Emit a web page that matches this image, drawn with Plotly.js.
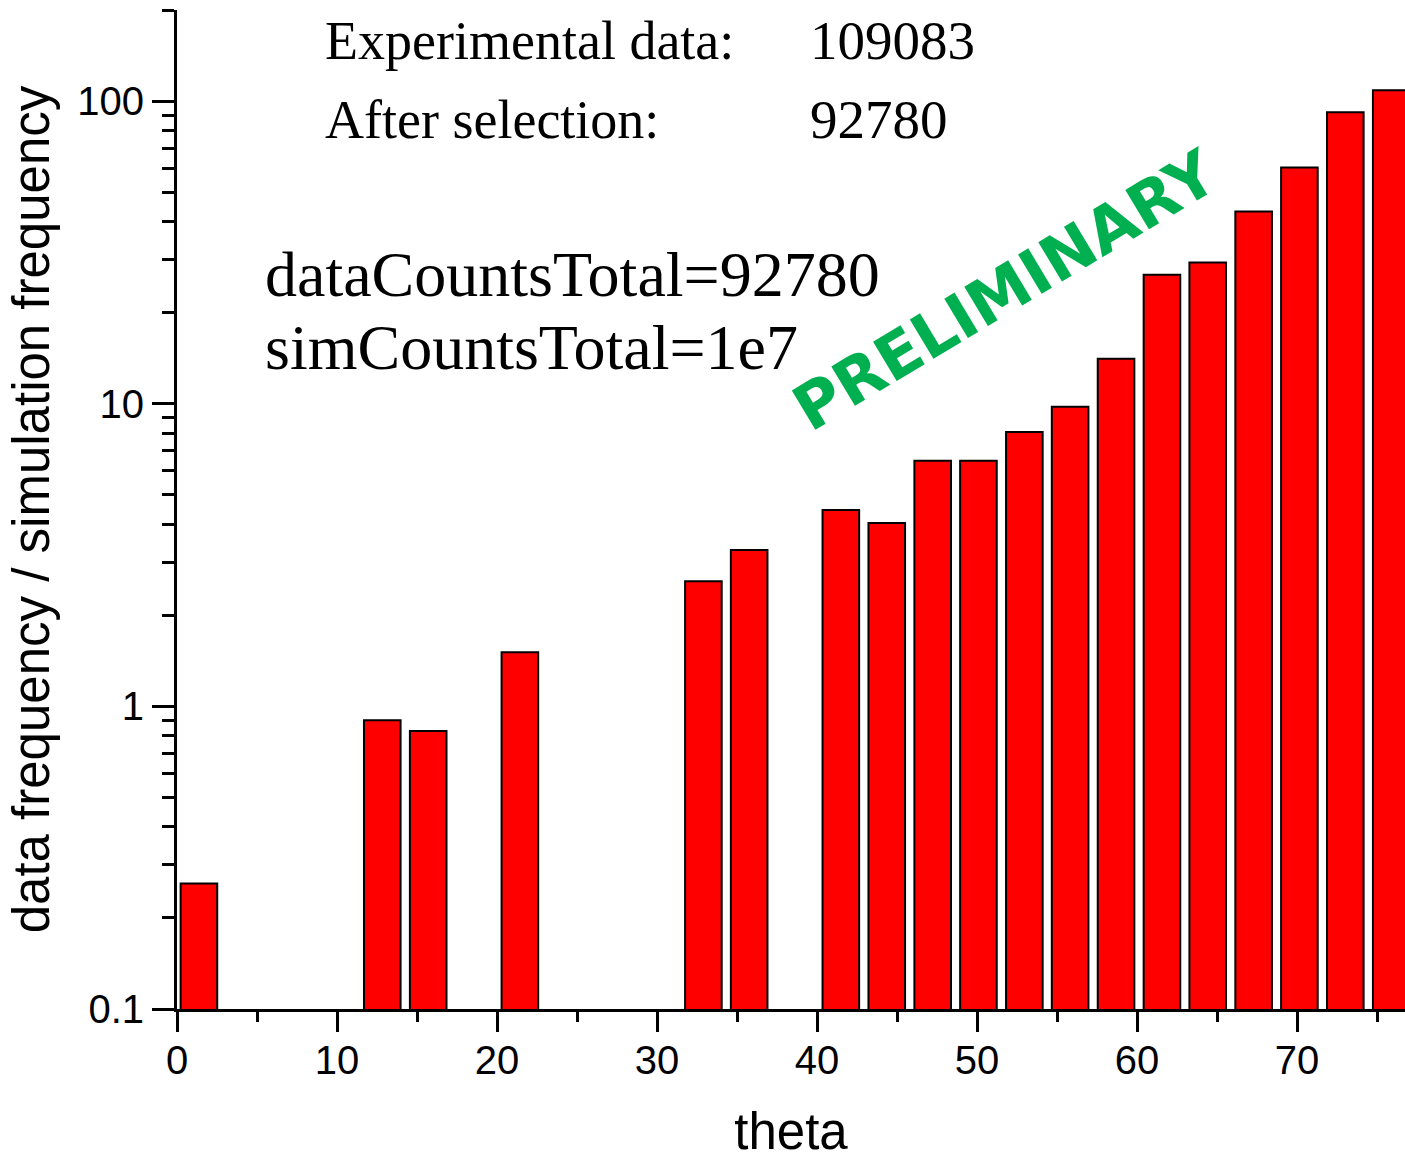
<!DOCTYPE html>
<html>
<head>
<meta charset="utf-8">
<script src="https://cdn.plot.ly/plotly-3.0.1.min.js"></script>
<style>html,body{margin:0;padding:0;background:#fff;}#chart{width:1405px;height:1160px;}</style>
</head>
<body>
<div id="chart"></div>
<script>
// bin centres (theta) and data/simulation frequency ratio; null = empty bin
const theta = [1.37, 4.24, 7.10, 9.97, 12.83, 15.70, 18.57, 21.43, 24.30, 27.16,
               30.03, 32.90, 35.76, 38.63, 41.49, 44.36, 47.23, 50.09, 52.96, 55.82,
               58.69, 61.56, 64.42, 67.29, 70.15, 73.02, 75.89];
const ratio = [0.26, null, null, null, 0.90, 0.83, null, 1.51, null, null,
               null, 2.59, 3.29, null, 4.46, 4.04, 6.48, 6.48, 8.07, 9.78,
               14.1, 26.7, 29.3, 43.2, 60.4, 92, 108.7];

const xTitle = 'theta';
const yTitle = 'data frequency / simulation frequency';
const infoLabels = ['Experimental data:', 'After selection:'];
const infoValues = ['109083', '92780'];
const totalsLines = ['dataCountsTotal=92780', 'simCountsTotal=1e7'];
const watermark = 'PRELIMINARY';

const sans = 'Liberation Sans, Arial, sans-serif';
const serif = 'Liberation Serif, Times New Roman, serif';

const trace = {
  type: 'bar',
  x: theta,
  y: ratio,
  marker: {color: '#ff0000', line: {color: '#000000', width: 2}},
  hoverinfo: 'x+y'
};

const layout = {
  width: 1405, height: 1160,
  margin: {l: 177, r: 0, t: 10, b: 151, pad: 0},
  paper_bgcolor: '#ffffff', plot_bgcolor: '#ffffff',
  showlegend: false,
  bargap: 0.2,
  xaxis: {
    range: [0, 76.75],
    automargin: 'left',
    showgrid: false, zeroline: false,
    showline: true, linecolor: '#000', linewidth: 3,
    ticks: 'outside', ticklen: 20, tickwidth: 3, tickcolor: '#000',
    tick0: 0, dtick: 10,
    ticklabelstandoff: -6,
    tickfont: {family: sans, size: 40, color: '#000'},
    minor: {ticks: 'outside', tick0: 0, dtick: 5, ticklen: 10, tickwidth: 3, tickcolor: '#000', showgrid: false},
    title: {text: xTitle, font: {family: sans, size: 51, color: '#000'}, standoff: 37}
  },
  yaxis: {
    type: 'log',
    range: [-1, 2.3015],
    automargin: 'top',
    showgrid: false, zeroline: false,
    showline: true, linecolor: '#000', linewidth: 3,
    ticks: 'outside', ticklen: 22, tickwidth: 3, tickcolor: '#000',
    dtick: 1,
    tickfont: {family: sans, size: 40, color: '#000'},
    minor: {ticks: 'outside', dtick: 'D1', ticklen: 12, tickwidth: 3, tickcolor: '#000', showgrid: false},
    title: {text: yTitle, font: {family: sans, size: 51, color: '#000'}, standoff: 12}
  },
  annotations: [
    {text: infoLabels[0], x: 0.1189, y: 0.9692, xref: 'paper', yref: 'paper', xanchor: 'left', yanchor: 'middle', showarrow: false,
     font: {family: serif, size: 54, color: '#000'}},
    {text: infoValues[0], x: 0.5138, y: 0.9692, xref: 'paper', yref: 'paper', xanchor: 'left', yanchor: 'middle', showarrow: false,
     font: {family: serif, size: 55, color: '#000'}},
    {text: infoLabels[1], x: 0.1189, y: 0.8901, xref: 'paper', yref: 'paper', xanchor: 'left', yanchor: 'middle', showarrow: false,
     font: {family: serif, size: 54, color: '#000'}},
    {text: infoValues[1], x: 0.5138, y: 0.8901, xref: 'paper', yref: 'paper', xanchor: 'left', yanchor: 'middle', showarrow: false,
     font: {family: serif, size: 55, color: '#000'}},
    {text: totalsLines[0], x: 0.0700, y: 0.7353, xref: 'paper', yref: 'paper', xanchor: 'left', yanchor: 'middle', showarrow: false,
     font: {family: serif, size: 64, color: '#000'}},
    {text: totalsLines[1], x: 0.0700, y: 0.6623, xref: 'paper', yref: 'paper', xanchor: 'left', yanchor: 'middle', showarrow: false,
     font: {family: serif, size: 64, color: '#000'}},
    {text: watermark, x: 0.6745, y: 0.7195, xref: 'paper', yref: 'paper', xanchor: 'center', yanchor: 'middle', showarrow: false,
     textangle: -31, font: {family: 'DejaVu Sans, Verdana, sans-serif', size: 63, color: '#00b050', weight: 'bold'}}
  ]
};

Plotly.newPlot('chart', [trace], layout, {displayModeBar: false, staticPlot: true});
</script>
</body>
</html>
